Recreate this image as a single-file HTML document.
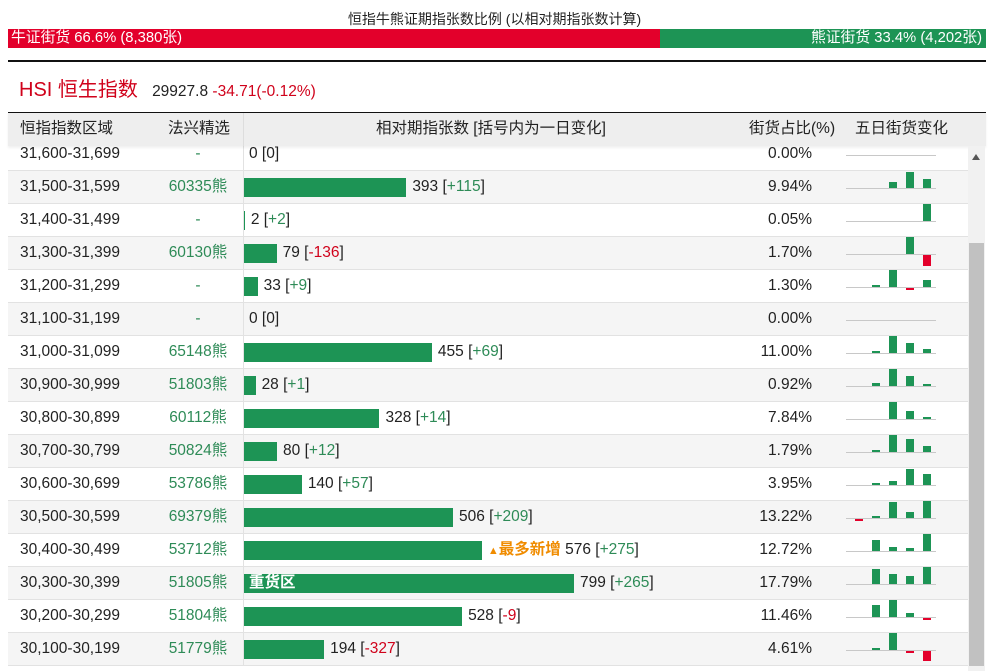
<!DOCTYPE html>
<html><head><meta charset="utf-8">
<style>
body{margin:0;width:989px;height:671px;overflow:hidden;background:#fff;font-family:"Liberation Sans","Noto Sans CJK SC",sans-serif;position:relative}
.abs{position:absolute}
.row{position:absolute;left:8px;width:960px;height:33px;border-bottom:1px solid #e2e2e2;box-sizing:border-box;font-size:15.5px;color:#222}
.row span{position:absolute;top:0;line-height:32px;white-space:nowrap}
</style></head><body>
<div class="abs" style="left:0;width:989px;top:9px;text-align:center;font-size:14px;color:#222">恒指牛熊证期指张数比例 (以相对期指张数计算)</div>
<div class="abs" style="left:8px;top:29px;width:652px;height:19px;background:#e3002b;color:#fff;font-size:14.8px;line-height:19px;padding-left:3px;box-sizing:border-box">牛证街货 66.6% (8,380张)</div>
<div class="abs" style="left:660px;top:29px;width:326px;height:19px;background:#1d9455;color:#fff;font-size:14.8px;line-height:19px;padding-right:4px;box-sizing:border-box;text-align:right">熊证街货 33.4% (4,202张)</div>
<div class="abs" style="left:8px;top:60px;width:978px;height:2px;background:#111"></div>
<div class="abs" style="left:19px;top:73px;font-size:20px;color:#d0021b;white-space:nowrap">HSI 恒生指数 <span style="font-size:15.5px;color:#222">&nbsp;&nbsp;29927.8 </span><span style="font-size:15.5px;color:#d0021b">-34.71(-0.12%)</span></div>
<div id="body" class="abs" style="left:0;top:0;width:989px;height:671px"></div>
<div class="abs" style="left:8px;top:112px;width:978px;height:33px;border-top:1px solid #111;background:#eeeeee;font-size:15.5px;color:#222;box-shadow:0 2px 2px rgba(0,0,0,0.06)">
<span class="abs" style="left:12px;line-height:32px">恒指指数区域</span>
<span class="abs" style="left:160px;line-height:32px">法兴精选</span>
<span class="abs" style="left:235px;top:0;width:1px;height:33px;background:#ddd"></span>
<span class="abs" style="left:368px;line-height:32px">相对期指张数 [括号内为一日变化]</span>
<span class="abs" style="left:741px;line-height:32px">街货占比(%)</span>
<span class="abs" style="left:847px;line-height:32px">五日街货变化</span>
</div>
<div class="abs" style="left:968px;top:146px;width:17px;height:525px;background:#f1f1f1">
<div class="abs" style="left:4px;top:8px;width:0;height:0;border-left:4px solid transparent;border-right:4px solid transparent;border-bottom:6px solid #555"></div>
<div class="abs" style="left:1px;top:97px;width:15px;height:423px;background:#c1c1c1"></div>
</div>
<script>
const ranges=["31,600-31,699","31,500-31,599","31,400-31,499","31,300-31,399","31,200-31,299","31,100-31,199","31,000-31,099","30,900-30,999","30,800-30,899","30,700-30,799","30,600-30,699","30,500-30,599","30,400-30,499","30,300-30,399","30,200-30,299","30,100-30,199"];
const picks=["-","60335熊","-","60130熊","-","-","65148熊","51803熊","60112熊","50824熊","53786熊","69379熊","53712熊","51805熊","51804熊","51779熊"];
const counts=[0,393,2,79,33,0,455,28,328,80,140,506,576,799,528,194];
const changes=[0,115,2,-136,9,0,69,1,14,12,57,209,275,265,-9,-327];
const shares=["0.00%","9.94%","0.05%","1.70%","1.30%","0.00%","11.00%","0.92%","7.84%","1.79%","3.95%","13.22%","12.72%","17.79%","11.46%","4.61%"];
const fiveDay=[[0,0,0,0,0],[0,0,6,16,9],[0,0,0,0,17],[0,0,0,17,-11],[0,2,17,-2,7],[0,0,0,0,0],[0,1,17,10,4],[0,3,17,10,1],[0,0,17,8,1],[0,1,17,13,6],[0,1,4,16,11],[-1,1,16,6,17],[0,11,4,3,17],[0,15,10,8,17],[0,12,17,4,-1],[0,1,17,-1,-10]];
const maxCount=799, barX=244, barMax=330;
const xBar=v=>v/maxCount*barMax;
const body=document.getElementById('body');
ranges.forEach((r,i)=>{
  const top=138+i*33;
  const row=document.createElement('div');
  row.className='row';
  
  
  row.style.top=top+'px';
  row.style.background=i%2?'#f5f5f5':'#fff';
  let h='';
  h+=`<span style="left:12px">${r}</span>`;
  h+=`<span style="left:145px;width:90px;text-align:center;color:#2e8b57">${picks[i]}</span>`;
  h+=`<span style="left:235px;top:0;width:1px;height:33px;background:#e2e2e2"></span>`;
  const w=xBar(counts[i]);
  h+=`<span style="left:${barX-8}px;top:7px;height:19px;width:${w}px;background:#1d9455"></span>`;
  if(i===13) h+=`<span style="left:${barX-8+5}px;color:#fff;font-weight:bold">重货区</span>`;
  const c=changes[i];
  const cc=c>0?'#2e8b57':(c<0?'#d0021b':'#222');
  const cs=c>0?'+'+c:''+c;
  let pre='';
  if(i===12) pre=`<span style="position:static;color:#f08c00;font-weight:bold"><span style="position:static;font-size:11px">▲</span>最多新增</span> `;
  h+=`<span style="left:${barX-8+w+(w>0?6:5)}px">${pre}${counts[i]} [<span style="position:static;color:${cc}">${cs}</span>]</span>`;
  h+=`<span style="left:700px;width:104px;text-align:right">${shares[i]}</span>`;
  h+=`<span style="left:838px;top:17px;width:90px;height:1px;background:#c8c8c8"></span>`;
  fiveDay[i].forEach((v,j)=>{
    if(v===0) return;
    const x=847+j*17;
    const hh=Math.max(2,Math.abs(v));
    h+=`<span style="left:${x}px;top:${v>0?17-hh:18}px;width:8px;height:${hh}px;background:${v>0?'#1d9455':'#e3002b'}"></span>`;
  });
  row.innerHTML=h;
  body.appendChild(row);
});
</script>
</body></html>
